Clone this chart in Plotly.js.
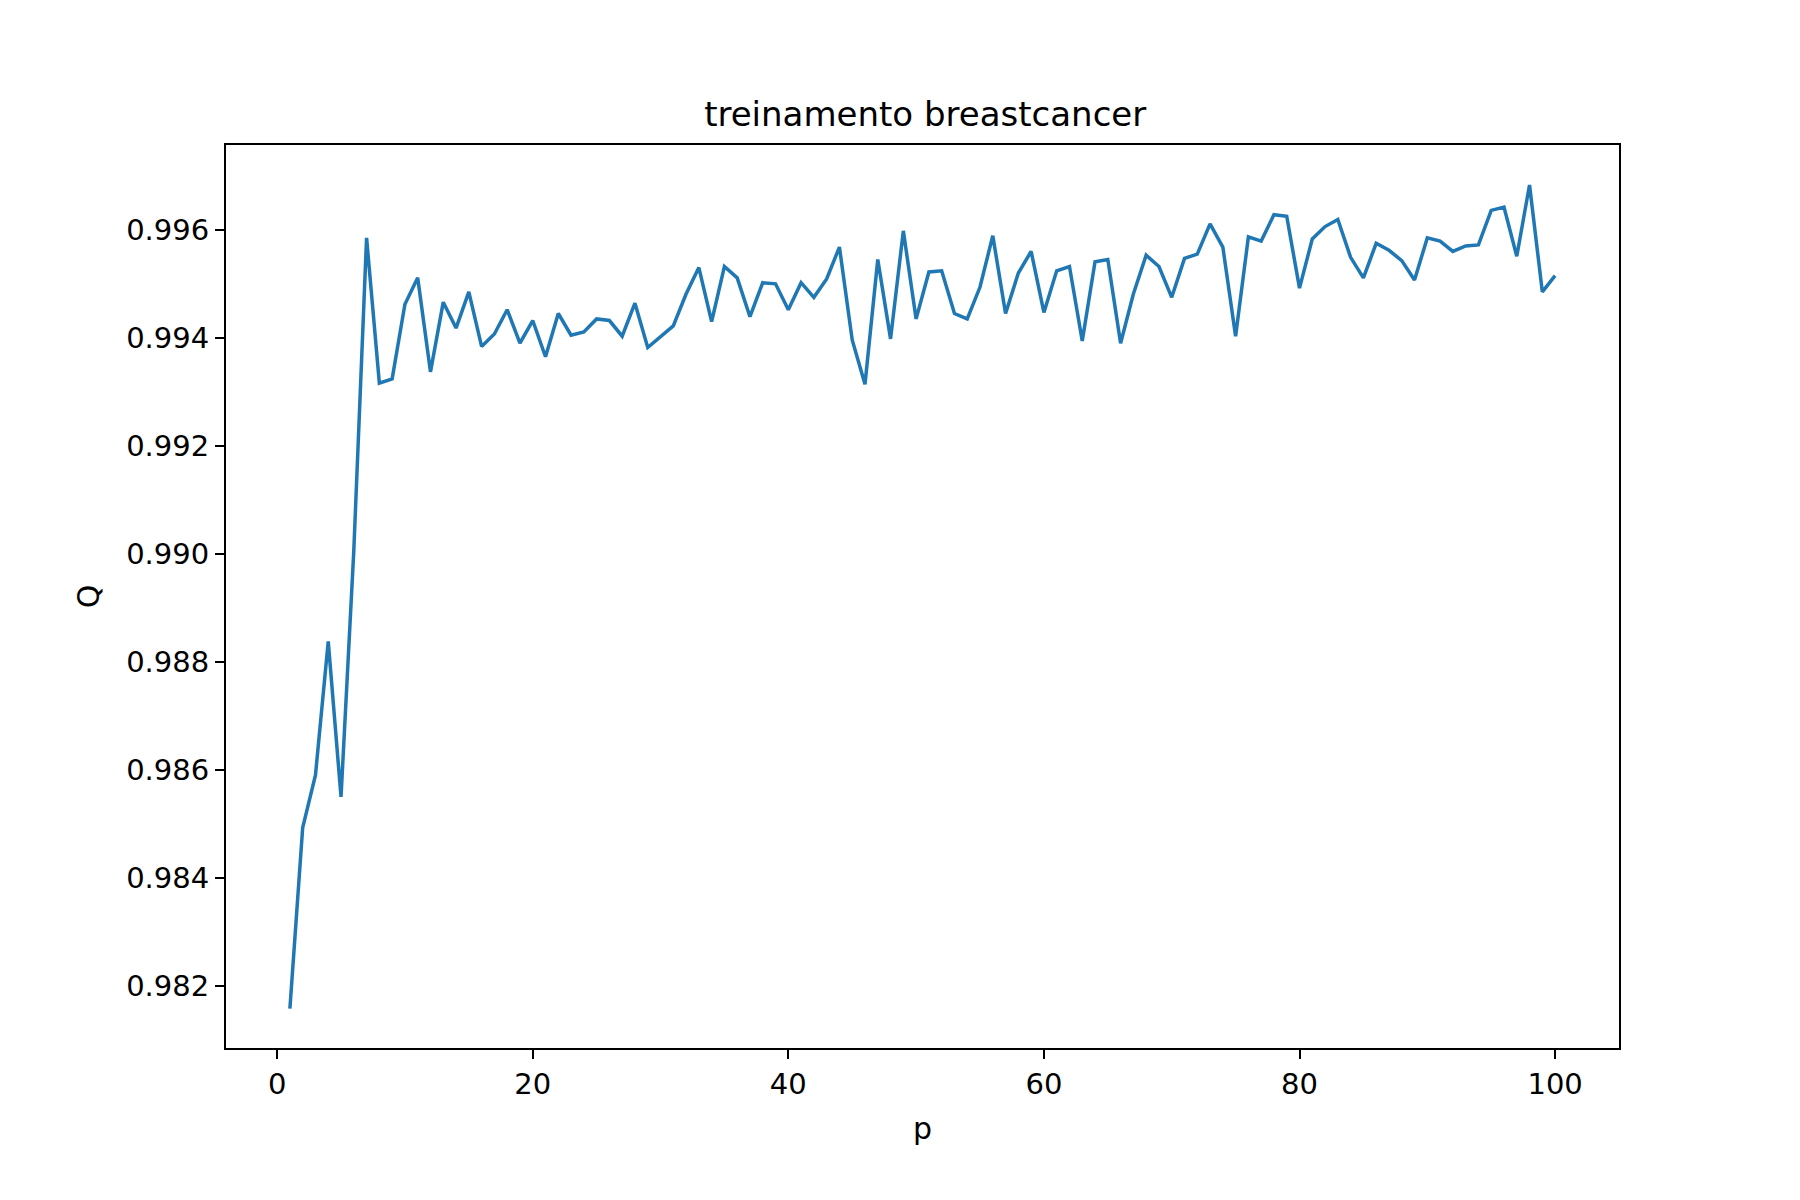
<!DOCTYPE html>
<html>
<head>
<meta charset="utf-8">
<script src="https://cdn.plot.ly/plotly-3.0.1.min.js"></script>
<style>body{margin:0;background:#fff}</style>
</head>
<body>
<div id="chart" style="width:1800px;height:1200px"></div>
<script>
// p from 1 to 100
const p = Array.from({length: 100}, (_, i) => i + 1);

const q = [
  0.98158, 0.98493, 0.98590, 0.98838, 0.98550, 0.99006, 0.99585, 0.99316, 0.99324, 0.99462,
  0.99511, 0.99337, 0.99466, 0.99418, 0.99485, 0.99384, 0.99407, 0.99452, 0.99390, 0.99432,
  0.99365, 0.99445, 0.99405, 0.99411, 0.99435, 0.99432, 0.99403, 0.99464, 0.99382, 0.99403,
  0.99422, 0.99481, 0.99530, 0.99430, 0.99532, 0.99511, 0.99439, 0.99502, 0.99500, 0.99452,
  0.99502, 0.99475, 0.99509, 0.99568, 0.99396, 0.99314, 0.99545, 0.99398, 0.99598, 0.99435,
  0.99522, 0.99524, 0.99445, 0.99435, 0.99494, 0.99589, 0.99445, 0.99520, 0.99560, 0.99447,
  0.99524, 0.99532, 0.99394, 0.99541, 0.99545, 0.99390, 0.99481, 0.99553, 0.99532, 0.99475,
  0.99547, 0.99555, 0.99611, 0.99568, 0.99403, 0.99587, 0.99579, 0.99628, 0.99625, 0.99492,
  0.99583, 0.99606, 0.99619, 0.99549, 0.99511, 0.99575, 0.99562, 0.99543, 0.99507, 0.99585,
  0.99579, 0.99560, 0.99570, 0.99572, 0.99636, 0.99642, 0.99551, 0.99683, 0.99485, 0.99515
];

const xTicks = [0, 20, 40, 60, 80, 100];
const yTicks = [0.982, 0.984, 0.986, 0.988, 0.990, 0.992, 0.994, 0.996];

const axisCommon = {
  showgrid: false, zeroline: false, showline: true, mirror: true,
  linecolor: '#000', linewidth: 2, ticks: 'outside', ticklen: 9, tickwidth: 2,
  tickcolor: '#000', tickfont: {size: 29, color: '#000'}
};

Plotly.newPlot('chart', [{
  x: p, y: q, type: 'scatter', mode: 'lines',
  line: {color: '#1f77b4', width: 3.5}
}], {
  width: 1800, height: 1200,
  font: {family: 'DejaVu Sans', color: '#000'},
  paper_bgcolor: '#fff', plot_bgcolor: '#fff',
  margin: {l: 226, r: 181, t: 145, b: 152},
  title: {text: 'treinamento breastcancer', font: {size: 34}, x: 0.514, xanchor: 'center', y: 0.915},
  xaxis: Object.assign({}, axisCommon, {
    range: [-4, 105], tickvals: xTicks,
    title: {text: 'p', font: {size: 30}, standoff: 18}
  }),
  yaxis: Object.assign({}, axisCommon, {
    range: [0.98085, 0.99757], tickvals: yTicks, tickformat: '.3f',
    title: {text: 'Q', font: {size: 30}, standoff: 18}
  }),
  showlegend: false
}, {displayModeBar: false});
</script>
</body>
</html>
